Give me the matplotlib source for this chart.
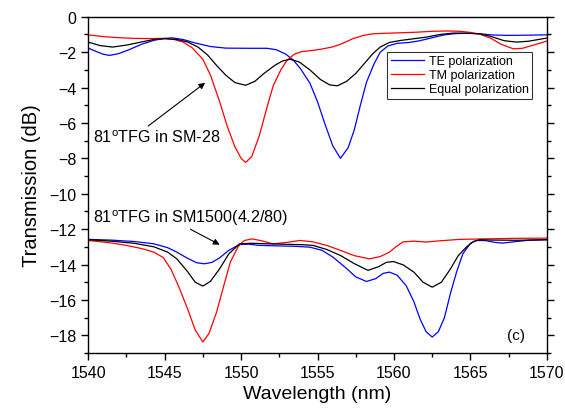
import numpy as np
import matplotlib
matplotlib.use("Agg")
import matplotlib.pyplot as plt

plt.rcParams['font.family'] = ['Liberation Sans', 'DejaVu Sans']
plt.rcParams['mathtext.fontset'] = 'custom'
plt.rcParams['mathtext.rm'] = 'Liberation Sans'

# SM-28 fibre (upper curves)
te_up_wl = [1540.0, 1540.5, 1541.0, 1541.4, 1542.0, 1542.7, 1543.5, 1544.3, 1545.0, 1545.5,
            1546.2, 1547.0, 1548.0, 1549.0, 1550.5, 1551.7, 1552.3, 1552.9, 1553.4, 1553.9,
            1554.5, 1555.0, 1555.5, 1556.0, 1556.5, 1557.0, 1557.4, 1557.8, 1558.2, 1558.7,
            1559.1, 1559.6, 1560.2, 1561.0, 1561.7, 1562.5, 1563.3, 1564.0, 1564.8, 1565.6,
            1566.5, 1567.5, 1568.5, 1570.0]
te_up = [-1.77, -1.95, -2.12, -2.18, -2.08, -1.85, -1.55, -1.33, -1.22, -1.19,
         -1.28, -1.48, -1.68, -1.77, -1.78, -1.78, -1.86, -2.1, -2.43, -2.95,
         -3.75, -4.8, -6.1, -7.3, -8.0, -7.4, -6.4, -5.0, -3.7, -2.65,
         -2.0, -1.65, -1.5, -1.45, -1.35, -1.18, -1.02, -0.95, -0.93, -0.96,
         -1.03, -1.05, -1.04, -1.02]

tm_up_wl = [1540.0, 1541.0, 1542.0, 1543.0, 1544.0, 1545.0, 1545.6, 1546.2, 1546.8, 1547.5,
            1548.0, 1548.6, 1549.1, 1549.6, 1550.0, 1550.3, 1550.7, 1551.2, 1551.7, 1552.1,
            1552.6, 1553.0, 1553.5, 1554.0, 1554.7, 1555.3, 1556.0, 1556.6, 1557.3, 1558.0,
            1558.6, 1559.5, 1560.5, 1561.5, 1562.5, 1563.5, 1564.3, 1565.0, 1565.6, 1566.3,
            1567.0, 1567.8, 1568.4, 1569.0, 1570.0]
tm_up = [-1.02, -1.12, -1.18, -1.22, -1.23, -1.22, -1.28, -1.42, -1.75, -2.4,
         -3.3, -4.8, -6.2, -7.35, -8.0, -8.23, -7.9, -6.7, -5.1, -3.9,
         -3.0, -2.46, -2.1, -1.96, -1.9, -1.82, -1.7, -1.52, -1.24, -1.05,
         -0.96, -0.93, -0.9, -0.87, -0.82, -0.8, -0.82, -0.88, -0.98, -1.2,
         -1.55, -1.81, -1.78, -1.63, -1.37]

eq_up_wl = [1540.0, 1540.8, 1541.6, 1542.5, 1543.5, 1544.3, 1545.0, 1545.8, 1546.5, 1547.2,
            1547.8, 1548.4, 1549.0, 1549.6, 1550.3, 1550.9, 1551.5, 1552.2, 1552.7, 1553.2,
            1553.8, 1554.5, 1555.2, 1555.8, 1556.3, 1556.9, 1557.5, 1558.0, 1558.6, 1559.1,
            1559.7, 1560.4, 1561.2, 1562.1, 1563.0, 1563.9, 1564.8, 1565.6, 1566.3, 1567.2,
            1568.0, 1568.8, 1570.0]
eq_up = [-1.43, -1.63, -1.71, -1.6, -1.42, -1.28, -1.24, -1.28, -1.42, -1.72,
         -2.15, -2.75, -3.3, -3.72, -3.87, -3.65, -3.2, -2.75, -2.5, -2.4,
         -2.55, -3.0, -3.55, -3.85, -3.9, -3.65, -3.2, -2.7, -2.1, -1.71,
         -1.45, -1.34, -1.25, -1.15, -1.0, -0.92, -0.93, -0.96, -1.1, -1.35,
         -1.43, -1.38, -1.2]

# SM1500 fibre (lower curves)
te_lo_wl = [1540.0, 1541.5, 1543.0, 1544.3, 1545.2, 1545.8, 1546.5, 1547.1, 1547.6, 1548.1,
            1548.6, 1549.2, 1549.9, 1550.5, 1551.2, 1552.5, 1553.5, 1554.5, 1555.3, 1556.0,
            1556.8, 1557.5, 1558.2, 1558.8, 1559.3, 1559.7, 1560.2, 1560.8, 1561.3, 1561.7,
            1562.1, 1562.5, 1562.9, 1563.3, 1563.7, 1564.1, 1564.5, 1565.0, 1565.4, 1566.0,
            1566.6, 1567.1, 1567.8, 1568.8, 1570.0]
te_lo = [-12.58, -12.62, -12.7, -12.83, -13.05, -13.3, -13.65, -13.9, -13.96, -13.88,
         -13.62, -13.2, -12.87, -12.85, -12.92, -12.95, -12.97, -13.02, -13.2, -13.58,
         -14.15, -14.7, -14.96, -14.8, -14.5, -14.43, -14.6, -15.2, -16.1, -17.07,
         -17.8, -18.1, -17.8, -17.0, -15.6, -14.4, -13.4, -12.8, -12.64, -12.65,
         -12.75, -12.79, -12.72, -12.63, -12.6]

tm_lo_wl = [1540.0, 1541.5, 1542.5, 1543.5, 1544.3, 1544.9, 1545.4, 1545.9, 1546.5, 1547.0,
            1547.5, 1547.9, 1548.4, 1548.9, 1549.3, 1549.8, 1550.2, 1550.7, 1551.3, 1552.1,
            1553.0, 1553.85, 1554.7, 1555.6, 1556.5, 1557.4, 1558.4, 1559.1, 1559.7, 1560.2,
            1560.6, 1561.3, 1562.1, 1563.0, 1564.3, 1566.0, 1568.0, 1570.0]
tm_lo = [-12.64, -12.78, -12.92, -13.1, -13.3, -13.6, -14.24, -15.2, -16.5, -17.7,
         -18.38, -17.9, -16.69, -15.1, -13.86, -13.0, -12.65, -12.55, -12.65, -12.83,
         -12.75, -12.64, -12.72, -12.92, -13.2, -13.5, -13.68, -13.55, -13.3, -12.95,
         -12.72, -12.68, -12.73, -12.66, -12.58, -12.55, -12.52, -12.51]

eq_lo_wl = [1540.0, 1541.5, 1543.0, 1544.3, 1545.2, 1545.8, 1546.5, 1547.0, 1547.5, 1548.0,
            1548.6, 1549.2, 1549.9, 1550.7, 1551.7, 1553.0, 1554.0, 1554.7, 1555.6, 1556.5,
            1557.4, 1558.3, 1559.0, 1559.5, 1559.95, 1560.6, 1561.3, 1561.9, 1562.5, 1563.1,
            1563.7, 1564.2, 1564.75, 1565.2, 1565.6, 1566.5, 1568.0, 1570.0]
eq_lo = [-12.6, -12.68, -12.8, -13.0, -13.3, -13.68, -14.4, -15.0, -15.22, -14.95,
         -14.24, -13.4, -12.83, -12.8, -12.83, -12.86, -12.88, -12.92, -13.15, -13.49,
         -13.95, -14.33, -14.12, -13.88, -13.83, -14.02, -14.43, -15.0, -15.28, -15.0,
         -14.24, -13.5, -13.0, -12.7, -12.6, -12.62, -12.63, -12.6]

fig = plt.figure(figsize=(5.65, 4.14), dpi=100)
ax = fig.add_axes([0.156, 0.145, 0.812, 0.812])

lw = 0.9
ax.plot(te_up_wl, te_up, color='#0000ff', lw=lw, label='TE polarization')
ax.plot(tm_up_wl, tm_up, color='#ff0000', lw=lw, label='TM polarization')
ax.plot(eq_up_wl, eq_up, color='black', lw=lw, label='Equal polarization')
ax.plot(te_lo_wl, te_lo, color='#0000ff', lw=lw)
ax.plot(tm_lo_wl, tm_lo, color='#ff0000', lw=lw)
ax.plot(eq_lo_wl, eq_lo, color='black', lw=lw)

ax.set_xlim(1540, 1570)
ax.set_ylim(-19, 0)
ax.set_xticks(np.arange(1540, 1571, 5))
ax.set_xticks(np.arange(1542.5, 1570, 5), minor=True)
ax.set_yticks(np.arange(-18, 1, 2))
ax.set_yticks(np.arange(-19, 0, 2), minor=True)
ax.tick_params(which='major', direction='out', length=5, width=1, labelsize=11.5,
               right=True, top=False)
ax.tick_params(which='minor', direction='out', length=3, width=1, right=True, top=False)
for s in ax.spines.values():
    s.set_linewidth(1)

ax.set_xlabel('Wavelength (nm)', fontsize=14, labelpad=4)
ax.set_ylabel('Transmission (dB)', fontsize=14.5, labelpad=6)

leg = ax.legend(loc='upper right', bbox_to_anchor=(0.982, 0.915), fontsize=9,
                frameon=True, fancybox=False, edgecolor='black', handlelength=2.6,
                borderpad=0.3, labelspacing=0.15, handletextpad=0.4)
leg.get_frame().set_linewidth(0.8)

ax.annotate('81$^{\\rm o}$TFG in SM-28', xy=(1547.65, -3.73), xytext=(1540.35, -6.8),
            fontsize=11.6, va='center', ha='left',
            arrowprops=dict(arrowstyle='-|>', color='black', lw=0.8,
                            shrinkA=0, shrinkB=0, mutation_scale=9,
                            relpos=(0.4, 1.0)))
ax.annotate('81$^{\\rm o}$TFG in SM1500(4.2/80)', xy=(1548.6, -12.88), xytext=(1540.35, -11.3),
            fontsize=11.6, va='center', ha='left',
            arrowprops=dict(arrowstyle='-|>', color='black', lw=0.8,
                            shrinkA=0, shrinkB=0, mutation_scale=9,
                            relpos=(0.47, 0.0)))
ax.text(1568.0, -18.0, '(c)', fontsize=11, ha='center', va='center')

fig.savefig('out.png', dpi=100)
